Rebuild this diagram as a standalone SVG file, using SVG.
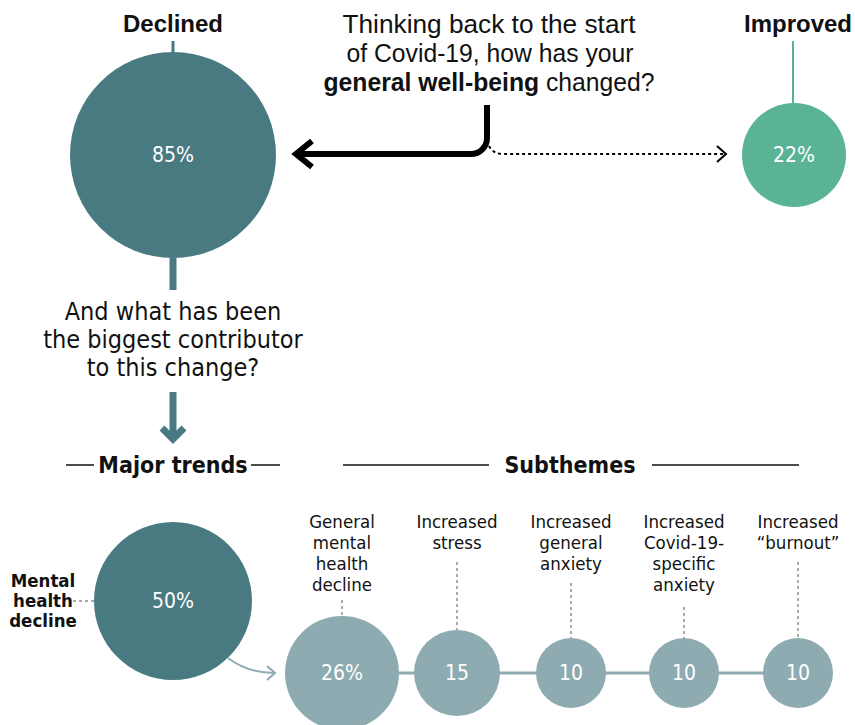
<svg xmlns="http://www.w3.org/2000/svg" width="855" height="725" viewBox="0 0 855 725">
<style>
.q{font-family:"Liberation Sans",Arial,sans-serif;font-size:26px;fill:#111;text-anchor:middle}
.hd{font-family:"Liberation Sans",Arial,sans-serif;font-size:24px;font-weight:bold;fill:#111;text-anchor:middle}
.cn{font-family:"Liberation Sans Narrow","DejaVu Sans Condensed","Liberation Sans",sans-serif;font-stretch:condensed;fill:#111;text-anchor:middle}
.q2{font-size:25px}
.lb{font-size:18.5px}
.bd{font-weight:bold}
.num{font-family:"Liberation Sans Narrow","DejaVu Sans Condensed","Liberation Sans",sans-serif;font-stretch:condensed;fill:#fff;text-anchor:middle;font-size:21px}
.dk{fill:#497A82}
.gr{fill:#5AB394}
.lt{fill:#8DABB0}
.dash{stroke:#555;stroke-width:1;stroke-dasharray:3,3;fill:none}
.rule{stroke:#111;stroke-width:1.5;fill:none}
</style>
<g id="question">
<text class="q" x="489" y="33" textLength="293" lengthAdjust="spacingAndGlyphs">Thinking back to the start</text>
<text class="q" x="490" y="62" textLength="287" lengthAdjust="spacingAndGlyphs">of Covid-19, how has your</text>
<text class="q" x="489" y="91" textLength="331" lengthAdjust="spacingAndGlyphs"><tspan font-weight="bold">general well-being</tspan> changed?</text>
</g>
<g id="declined">
<text class="hd" x="173" y="32">Declined</text>
<circle class="dk" cx="173" cy="155" r="103"/>
<text class="num" x="173" y="162">85%</text>
</g>
<g id="improved">
<text class="hd" x="798" y="32">Improved</text>
<circle class="gr" cx="794" cy="155" r="52"/>
<text class="num" x="794" y="162">22%</text>
</g>
<g id="question2">
<text class="cn q2" x="173" y="320">And what has been</text>
<text class="cn q2" x="173" y="348">the biggest contributor</text>
<text class="cn q2" x="173" y="376">to this change?</text>
</g>
<g id="headers">
<text class="cn bd" x="173" y="473" font-size="23">Major trends</text>
<line class="rule" x1="66" y1="465" x2="94" y2="465"/>
<line class="rule" x1="251" y1="465" x2="280" y2="465"/>
<text class="cn bd" x="570" y="473" font-size="23">Subthemes</text>
<line class="rule" x1="343" y1="465" x2="489" y2="465"/>
<line class="rule" x1="652" y1="465" x2="799" y2="465"/>
</g>
<g id="connectors">
<line x1="173" y1="41" x2="173" y2="52" stroke="#497A82" stroke-width="3"/>
<line x1="173" y1="258" x2="173" y2="290" stroke="#497A82" stroke-width="7"/>
<line x1="793" y1="41" x2="793" y2="103" stroke="#5AB394" stroke-width="2"/>
<path d="M487,105 V138 A16,16 0 0 1 471,154 H298" fill="none" stroke="#000" stroke-width="6"/>
<path d="M312,141 L296,154 L312,167" fill="none" stroke="#000" stroke-width="6"/>
<path d="M489,146 Q493,154 503,154 H725" fill="none" stroke="#000" stroke-width="2" stroke-dasharray="3,3"/>
<path d="M717,146 L726,154 L717,162" fill="none" stroke="#000" stroke-width="2"/>
<line x1="173" y1="392" x2="173" y2="438" stroke="#497A82" stroke-width="7"/>
<path d="M162,428 L173,439 L184,428" fill="none" stroke="#497A82" stroke-width="7"/>
<line class="dash" x1="73" y1="601" x2="94" y2="601"/>
<path d="M228,658 Q248,673 274,673" fill="none" stroke="#8DABB0" stroke-width="2"/>
<path d="M267,666 L275,673 L267,680" fill="none" stroke="#8DABB0" stroke-width="2"/>
<line x1="342" y1="673" x2="798" y2="673" stroke="#8DABB0" stroke-width="3"/>
<line class="dash" x1="342" y1="600" x2="342" y2="616"/>
<line class="dash" x1="457" y1="562" x2="457" y2="630"/>
<line class="dash" x1="571" y1="583" x2="571" y2="638"/>
<line class="dash" x1="684" y1="607" x2="684" y2="638"/>
<line class="dash" x1="798" y1="562" x2="798" y2="638"/>
</g>
<g id="mental">
<text class="cn lb bd" x="43" y="587">Mental</text>
<text class="cn lb bd" x="43" y="607">health</text>
<text class="cn lb bd" x="43" y="627">decline</text>
<circle class="dk" cx="173" cy="601" r="79"/>
<text class="num" x="173" y="608">50%</text>
</g>
<g id="sub1">
<text class="cn lb" x="342" y="528">General</text>
<text class="cn lb" x="342" y="549">mental</text>
<text class="cn lb" x="342" y="570">health</text>
<text class="cn lb" x="342" y="591">decline</text>
<circle class="lt" cx="342" cy="673" r="57"/>
<text class="num" x="342" y="680">26%</text>
</g>
<g id="sub2">
<text class="cn lb" x="457" y="528">Increased</text>
<text class="cn lb" x="457" y="549">stress</text>
<circle class="lt" cx="457" cy="673" r="43"/>
<text class="num" x="457" y="680">15</text>
</g>
<g id="sub3">
<text class="cn lb" x="571" y="528">Increased</text>
<text class="cn lb" x="571" y="549">general</text>
<text class="cn lb" x="571" y="570">anxiety</text>
<circle class="lt" cx="571" cy="673" r="35"/>
<text class="num" x="571" y="680">10</text>
</g>
<g id="sub4">
<text class="cn lb" x="684" y="528">Increased</text>
<text class="cn lb" x="684" y="549">Covid-19-</text>
<text class="cn lb" x="684" y="570">specific</text>
<text class="cn lb" x="684" y="591">anxiety</text>
<circle class="lt" cx="684" cy="673" r="35"/>
<text class="num" x="684" y="680">10</text>
</g>
<g id="sub5">
<text class="cn lb" x="798" y="528">Increased</text>
<text class="cn lb" x="798" y="549">“burnout”</text>
<circle class="lt" cx="798" cy="673" r="35"/>
<text class="num" x="798" y="680">10</text>
</g>
</svg>
